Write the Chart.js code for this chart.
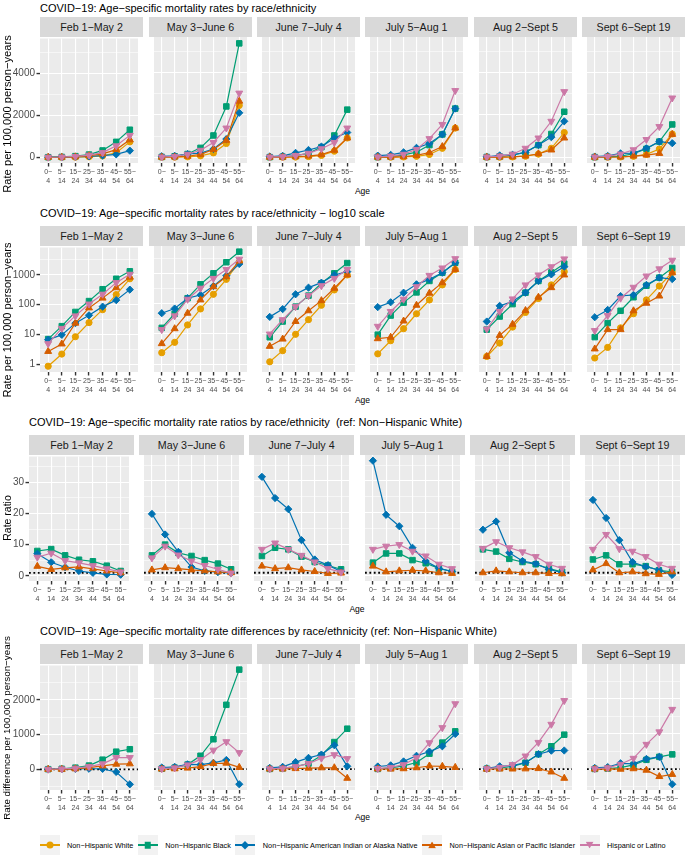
<!DOCTYPE html>
<html>
<head>
<meta charset="utf-8">
<script src="https://cdn.jsdelivr.net/npm/chart.js@4.4.0/dist/chart.umd.min.js"></script>
<style>
  body { margin: 0; width: 685px; height: 857px; position: relative; overflow: hidden; background: #fff;
         font-family: "Liberation Sans", Arial, Helvetica, sans-serif; }
  canvas { position: absolute; }
  .title { position: absolute; font-size: 11px; line-height: 12px; color: #000; white-space: pre; }
  .strip { position: absolute; height: 20px; line-height: 20px; background: #D9D9D9; color: #1A1A1A;
           font-size: 10.7px; text-align: center; white-space: nowrap; }
  .ytitle { position: absolute; line-height: 12px; color: #000; white-space: nowrap;
            transform: translate(-50%, -50%) rotate(-90deg); z-index: 2; }
  .xtitle { position: absolute; font-size: 8.5px; line-height: 10px; color: #000; transform: translateX(-50%); }
  .legend { position: absolute; left: 39.5px; top: 835px; height: 20px; display: flex; align-items: center; }
  .key { position: relative; width: 20px; height: 20px; background: #F2F2F2; flex: none; }
  .key .ln { position: absolute; left: 0; right: 0; top: 9.4px; height: 1.2px; }
  .key .mk { position: absolute; left: 50%; top: 50%; transform: translate(-50%, -50%); }
  .lab { font-size: 7.3px; color: #000; margin: 0 4.5px 0 7.5px; white-space: nowrap; }
</style>
</head>
<body>
<script>
// facets, categories, groups
const periods = ['Feb 1−May 2', 'May 3−June 6', 'June 7−July 4', 'July 5−Aug 1', 'Aug 2−Sept 5', 'Sept 6−Sept 19'];
const ageGroups = ['0−4', '5−14', '15−24', '25−34', '35−44', '45−54', '55−64'];
const groupNames = ['Non−Hispanic White', 'Non−Hispanic Black', 'Non−Hispanic American Indian or Alaska Native',
    'Non−Hispanic Asian or Pacific Islander', 'Hispanic or Latino'];

// mortality rate per 100,000 person-years, one row per period
const rateWhite = [
    [0.86, 2.2, 8.4, 25, 68, 218, 740],
    [2.4, 5.3, 20, 68, 208, 650, 2450],
    [1.2, 2.8, 9.8, 30, 90, 290, 910],
    [2.2, 6.0, 15, 47, 135, 425, 1380],
    [1.8, 5.0, 17, 52, 150, 425, 1170],
    [1.6, 3.6, 16, 47, 135, 390, 1100]
];
const rateBlack = [
    [7.0, 19, 57, 132, 330, 740, 1320],
    [16, 47, 154, 445, 1030, 2400, 5380],
    [7.8, 26, 81, 188, 480, 1030, 2250],
    [9.5, 41, 110, 240, 575, 1080, 2300],
    [14, 38, 98, 235, 575, 1100, 2150],
    [7.9, 23, 59, 166, 400, 740, 1550]
];
const rateAian = [
    [6.7, 9.7, 24, 44, 86, 142, 320],
    [49, 70, 154, 198, 390, 860, 2100],
    [37, 67, 208, 345, 505, 910, 1170],
    [78, 113, 235, 445, 650, 1080, 2300],
    [26, 86, 120, 235, 575, 950, 1700],
    [36, 63, 182, 198, 425, 740, 665]
];
const rateAsian = [
    [2.7, 4.8, 24, 78, 166, 370, 840],
    [4.8, 15, 49, 135, 370, 800, 2650],
    [3.9, 6.8, 26, 59, 128, 330, 910],
    [7.0, 7.8, 27, 90, 225, 505, 1380],
    [1.8, 9.0, 21, 60, 166, 345, 910],
    [3.2, 14, 14, 59, 105, 182, 1080]
];
const rateHispanic = [
    [4.9, 16, 42, 105, 225, 550, 1050],
    [14, 40, 142, 330, 700, 1380, 3030],
    [10, 30, 81, 188, 400, 700, 1380],
    [18, 56, 142, 370, 880, 1550, 3150],
    [14.6, 56, 146, 425, 910, 1700, 3100],
    [13, 41, 154, 355, 840, 1450, 2800]
];

// rate ratios vs Non-Hispanic White
const ratioBlack = [
    [8.0, 8.6, 6.6, 5.2, 4.7, 3.3, 1.6],
    [6.5, 9.9, 7.3, 6.3, 5.0, 3.9, 2.1],
    [6.3, 8.9, 8.4, 6.1, 4.4, 3.3, 2.1],
    [4.2, 7.1, 7.1, 5.0, 4.0, 2.4, 1.4],
    [8.4, 7.7, 5.4, 4.4, 3.7, 2.3, 1.3],
    [5.2, 6.5, 3.7, 3.7, 3.1, 1.8, 1.3]
];
const ratioAian = [
    [7.1, 4.4, 2.8, 1.6, 1.0, 0.5, 0.4],
    [19.6, 13.1, 7.6, 2.8, 1.6, 1.2, 0.9],
    [31.3, 24.6, 21.1, 11.3, 5.2, 3.4, 1.4],
    [36.4, 19.3, 15.7, 8.9, 4.7, 2.4, 1.4],
    [14.6, 17.2, 7.3, 4.7, 3.9, 2.1, 1.0],
    [24.0, 18.3, 11.3, 4.4, 2.9, 1.9, 0.3]
];
const ratioAsian = [
    [3.1, 2.1, 2.6, 2.9, 2.3, 1.6, 1.0],
    [1.9, 2.6, 2.3, 1.9, 1.6, 1.3, 1.0],
    [3.1, 2.3, 2.6, 1.9, 1.4, 0.8, 0.9],
    [3.1, 1.3, 1.6, 1.8, 1.6, 1.0, 0.8],
    [1.0, 1.6, 1.3, 1.0, 1.0, 0.8, 0.7],
    [1.9, 3.9, 1.0, 1.3, 0.7, 0.5, 1.3]
];
const ratioHispanic = [
    [6.0, 7.3, 4.9, 4.2, 3.3, 2.3, 1.3],
    [5.7, 9.4, 6.6, 4.7, 3.3, 2.1, 0.9],
    [8.4, 10.4, 8.4, 6.5, 4.4, 2.3, 1.2],
    [8.4, 9.4, 9.9, 7.8, 6.3, 3.7, 2.3],
    [8.7, 10.8, 8.9, 7.6, 6.1, 3.7, 2.4],
    [8.4, 13.1, 8.6, 7.8, 6.1, 3.7, 2.4]
];

// rate differences vs Non-Hispanic White, per 100,000 person-years
const diffBlack = [
    [6, 17, 50, 110, 280, 510, 580],
    [14, 42, 130, 380, 850, 1830, 2830],
    [7, 23, 70, 160, 390, 770, 1150],
    [7, 35, 95, 190, 440, 755, 1075],
    [12, 33, 81, 183, 425, 650, 980],
    [6, 19, 43, 119, 265, 350, 420]
];
const diffAian = [
    [5, 7, 15, 19, 15, -75, -430],
    [47, 65, 135, 130, 180, 260, -430],
    [36, 65, 200, 320, 415, 680, 80],
    [76, 107, 220, 380, 500, 650, 1000],
    [24, 81, 103, 183, 425, 525, 530],
    [34, 59, 166, 151, 290, 350, -430]
];
const diffAsian = [
    [2, 2, 15, 50, 100, 150, 160],
    [2, 10, 30, 70, 160, 170, 50],
    [3, 4, 16, 29, 38, 40, -260],
    [5, 2, 12, 40, 90, 80, 50],
    [0, 4, 4, 8, 16, -80, -260],
    [2, 10, -2, 12, -30, -210, -150]
];
const diffHispanic = [
    [4, 14, 34, 80, 160, 340, 340],
    [12, 35, 120, 270, 540, 780, 470],
    [9, 27, 71, 158, 310, 410, 300],
    [16, 50, 127, 323, 750, 1180, 1860],
    [13, 51, 129, 373, 760, 1275, 1950],
    [11, 37, 138, 308, 705, 1060, 1700]
];

// y axis breaks per row
const rateMajor = [0, 2000, 4000];
const rateMinor = [1000, 3000, 5000];
const logMajor = [1, 10, 100, 1000];
const logMinor = [3.162, 31.62, 316.2, 3162];
const ratioMajor = [0, 10, 20, 30];
const ratioMinor = [5, 15, 25, 35];
const diffMajor = [0, 1000, 2000];
const diffMinor = [-500, 500, 1500, 2500];

// styles
const FONT = '"Liberation Sans", Arial, Helvetica, sans-serif';
const groupColors = ['#E69F00', '#009E73', '#0072B2', '#D55E00', '#CC79A7'];
const groupShapes = ['circle', 'rect', 'rectRot', 'triangle', 'triangle'];
const groupRotation = [0, 0, 0, 0, 180];
const groupRadius = [3.1, 3.9, 3.6, 4.0, 4.0];

const PAD_TOP = 6, PLOT_H = 126, XAXIS_H = 24;
const lefts12 = [40, 149, 257, 365, 474, 582];

const rows = [
    { title: 'COVID−19: Age−specific mortality rates by race/ethnicity',
      yTitle: 'Rate per 100,000 person−years', yTitleSize: 11.2,
      series: [rateWhite, rateBlack, rateAian, rateAsian, rateHispanic], groups: [0, 1, 2, 3, 4],
      type: 'linear', min: -270, max: 5680, major: rateMajor, minor: rateMinor, ref: null,
      plotTop: 37, lefts: lefts12, width: 103, titleY: 8, yTitleY: 114, ageY: 191 },
    { title: 'COVID−19: Age−specific mortality rates by race/ethnicity − log10 scale',
      yTitle: 'Rate per 100,000 person−years', yTitleSize: 11,
      series: [rateWhite, rateBlack, rateAian, rateAsian, rateHispanic], groups: [0, 1, 2, 3, 4],
      type: 'logarithmic', min: 0.55, max: 8300, major: logMajor, minor: logMinor, ref: null,
      plotTop: 246, lefts: lefts12, width: 103, titleY: 213, yTitleY: 320, ageY: 400 },
    { title: 'COVID−19: Age−specific mortality rate ratios by race/ethnicity  (ref: Non−Hispanic White)',
      yTitle: 'Rate ratio', yTitleSize: 10.5,
      series: [ratioBlack, ratioAian, ratioAsian, ratioHispanic], groups: [1, 2, 3, 4],
      type: 'linear', min: -1.6, max: 38.2, major: ratioMajor, minor: ratioMinor, ref: 1,
      plotTop: 455, lefts: [29, 139, 249, 360, 470, 580], width: 105, titleY: 422, yTitleY: 518, ageY: 609 },
    { title: 'COVID−19: Age−specific mortality rate differences by race/ethnicity (ref: Non−Hispanic White)',
      yTitle: 'Rate difference per 100,000 person−years', yTitleSize: 9.8,
      series: [diffBlack, diffAian, diffAsian, diffHispanic], groups: [1, 2, 3, 4],
      type: 'linear', min: -593, max: 2990, major: diffMajor, minor: diffMinor, ref: 0,
      plotTop: 664, lefts: lefts12, width: 103, titleY: 631, yTitleY: 728, ageY: 817 }
];

// grey panel background
const panelBg = {
    id: 'panelBg',
    beforeDraw(chart) {
        const a = chart.chartArea, ctx = chart.ctx;
        ctx.save();
        ctx.fillStyle = '#EBEBEB';
        ctx.fillRect(a.left, a.top, a.right - a.left, a.bottom - a.top);
        ctx.restore();
    }
};

// dotted reference line (ratio 1 / difference 0)
const refLine = {
    id: 'refLine',
    beforeDatasetsDraw(chart, args, opts) {
        if (opts.value === null || opts.value === undefined) return;
        const a = chart.chartArea, ctx = chart.ctx;
        const y = chart.scales.y.getPixelForValue(opts.value);
        ctx.save();
        ctx.strokeStyle = '#000';
        ctx.lineWidth = 1.8;
        ctx.setLineDash([1.8, 2.6]);
        ctx.beginPath();
        ctx.moveTo(a.left, y);
        ctx.lineTo(a.right, y);
        ctx.stroke();
        ctx.restore();
    }
};

function addDiv(cls, text, style) {
    const d = document.createElement('div');
    d.className = cls;
    d.textContent = text;
    Object.assign(d.style, style);
    document.body.appendChild(d);
    return d;
}

function splitAge(label) {
    const i = label.indexOf('−');
    return [label.slice(0, i + 1), label.slice(i + 1)];
}

rows.forEach(row => {
    addDiv('title', row.title, { left: row.lefts[0] + 'px', top: (row.titleY - 6) + 'px' });
    addDiv('ytitle', row.yTitle, { left: '7px', top: row.yTitleY + 'px', fontSize: row.yTitleSize + 'px' });
    addDiv('xtitle', 'Age', { left: ((row.lefts[0] + 685) / 2) + 'px', top: (row.ageY - 5) + 'px' });

    const yTicks = row.major.concat(row.minor).sort((a, b) => a - b);
    const isMajor = v => row.major.includes(v);

    periods.forEach((period, p) => {
        const first = p === 0;
        const axisW = first ? row.lefts[0] : 0;

        addDiv('strip', period, { left: row.lefts[p] + 'px', top: (row.plotTop - 20) + 'px', width: row.width + 'px' });

        const canvas = document.createElement('canvas');
        canvas.width = row.width + axisW;
        canvas.height = PAD_TOP + PLOT_H + XAXIS_H;
        canvas.style.left = (row.lefts[p] - axisW) + 'px';
        canvas.style.top = (row.plotTop - PAD_TOP) + 'px';
        document.body.appendChild(canvas);

        const datasets = row.groups.map((g, k) => ({
            label: groupNames[g],
            data: row.series[k][p].map((v, i) => ({ x: i, y: v })),
            borderColor: groupColors[g],
            backgroundColor: groupColors[g],
            borderWidth: 1.2,
            pointStyle: groupShapes[g],
            pointRotation: groupRotation[g],
            pointRadius: groupRadius[g],
            pointBorderWidth: 1,
            order: row.groups.length - k
        }));

        new Chart(canvas, {
            type: 'line',
            data: { datasets: datasets },
            options: {
                responsive: false,
                animation: false,
                devicePixelRatio: 1,
                layout: { padding: { top: PAD_TOP, left: 0, right: 0, bottom: 0 } },
                plugins: {
                    legend: { display: false },
                    tooltip: { enabled: false },
                    refLine: { value: row.ref }
                },
                scales: {
                    x: {
                        type: 'linear', min: -0.6, max: 6.6,
                        afterBuildTicks: s => { s.ticks = ageGroups.map((_, i) => ({ value: i })); },
                        afterFit: s => { s.height = XAXIS_H; },
                        border: { display: false },
                        grid: { color: '#FFFFFF', lineWidth: 1.1, tickLength: 3.5, tickColor: '#333333', tickWidth: 1.4 },
                        ticks: {
                            autoSkip: false, maxRotation: 0, minRotation: 0, padding: 1.5,
                            color: '#4D4D4D', font: { size: 7, family: FONT, lineHeight: 1.2 },
                            callback: v => splitAge(ageGroups[v])
                        }
                    },
                    y: {
                        type: row.type, min: row.min, max: row.max,
                        afterBuildTicks: s => { s.ticks = yTicks.map(v => ({ value: v })); },
                        afterFit: s => { s.width = axisW; },
                        border: { display: false },
                        grid: {
                            color: '#FFFFFF',
                            lineWidth: c => (c.tick && isMajor(c.tick.value)) ? 1.1 : 0.55,
                            drawTicks: first, tickLength: 3.5, tickWidth: 1.4,
                            tickColor: c => (c.tick && isMajor(c.tick.value)) ? '#333333' : 'rgba(0,0,0,0)'
                        },
                        ticks: {
                            display: first, autoSkip: false, padding: 1.5,
                            color: '#4D4D4D', font: { size: 10, family: FONT },
                            callback: v => isMajor(v) ? String(v) : ''
                        }
                    }
                }
            },
            plugins: [panelBg, refLine]
        });
    });
});

// legend
const legend = document.createElement('div');
legend.className = 'legend';
const markerCss = [
    'width:7px;height:7px;border-radius:50%;',
    'width:6.5px;height:6.5px;',
    'width:5.5px;height:5.5px;transform:translate(-50%,-50%) rotate(45deg);',
    'width:8px;height:7px;clip-path:polygon(50% 0,100% 100%,0 100%);',
    'width:8px;height:7px;clip-path:polygon(0 0,100% 0,50% 100%);'
];
groupNames.forEach((name, g) => {
    const key = document.createElement('div');
    key.className = 'key';
    key.innerHTML = '<div class="ln" style="background:' + groupColors[g] + '"></div>' +
        '<div class="mk" style="background:' + groupColors[g] + ';' + markerCss[g] + '"></div>';
    const lab = document.createElement('div');
    lab.className = 'lab';
    lab.textContent = name;
    legend.appendChild(key);
    legend.appendChild(lab);
});
document.body.appendChild(legend);
</script>
</body>
</html>
